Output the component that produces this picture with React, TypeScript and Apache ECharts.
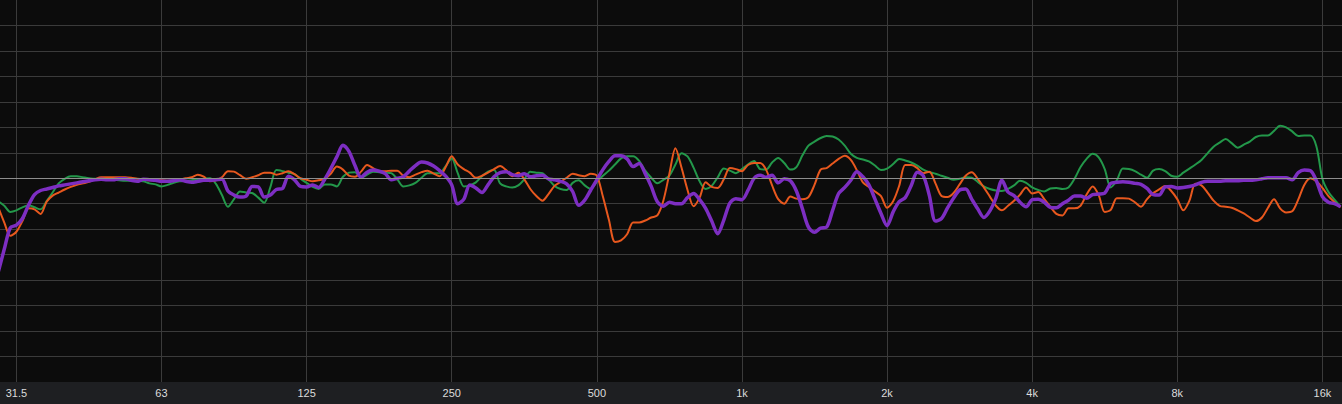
import React, { useEffect, useRef } from 'react';
import * as echarts from 'echarts';

// 1/24-octave frequency grid (Hz)
const freqHz = [
  28.66, 29.5, 30.36,
  31.25, 32.17, 33.11, 34.08, 35.08, 36.11, 37.16, 38.25, 39.37, 40.53, 41.71, 42.93, 44.19, 45.49, 46.82, 48.19, 49.61, 51.06, 52.56, 54.09, 55.68, 57.31, 58.99, 60.72,
  62.5, 64.34, 66.22, 68.16, 70.16, 72.22, 74.32, 76.5, 78.74, 81.06, 83.42, 85.86, 88.38, 90.98, 93.64, 96.38, 99.22, 102.1, 105.1, 108.2, 111.4, 114.6, 118.0, 121.4,
  125, 128.7, 132.4, 136.3, 140.3, 144.4, 148.7, 153.0, 157.5, 162.1, 166.9, 171.7, 176.8, 182.0, 187.3, 192.8, 198.4, 204.2, 210.2, 216.4, 222.7, 229.3, 236.0, 242.9,
  250, 257.3, 264.9, 272.6, 280.6, 288.9, 297.3, 306.0, 315.0, 324.2, 333.7, 343.5, 353.6, 363.9, 374.6, 385.6, 396.9, 408.5, 420.5, 432.8, 445.5, 458.5, 471.9, 485.8,
  500, 514.7, 529.8, 545.3, 561.3, 577.7, 594.6, 612.1, 630.0, 648.4, 667.4, 687.0, 707.1, 727.8, 749.2, 771.1, 793.7, 817.0, 840.9, 865.5, 890.9, 917.0, 943.9, 971.6,
  1000, 1029, 1060, 1091, 1122, 1155, 1189, 1224, 1260, 1297, 1335, 1374, 1414, 1456, 1498, 1542, 1587, 1634, 1682, 1731, 1782, 1834, 1888, 1943,
  2000, 2059, 2119, 2181, 2245, 2311, 2378, 2448, 2520, 2594, 2670, 2748, 2828, 2911, 2997, 3084, 3175, 3268, 3364, 3462, 3564, 3668, 3775, 3886,
  4000, 4117, 4238, 4362, 4490, 4622, 4757, 4896, 5040, 5187, 5339, 5496, 5657, 5822, 5993, 6169, 6350, 6535, 6727, 6924, 7127, 7336, 7551, 7772,
  8000, 8234, 8476, 8724, 8980, 9243, 9514, 9793, 10079, 10374, 10678, 10991, 11314, 11645, 11986, 12338, 12699, 13071, 13454, 13848, 14254, 14672, 15102, 15545,
  16000, 16469, 16952, 17448,
];

const greenDb = [
  -4.5, -5.4, -6.6, -6.3, -5.7, -5.3, -5.7, -6.1, -4.5, -2.8,
  -1.0, -0.1, 0.4, 0.4, 0.2, 0.0, -0.1, -0.2, -0.2, -0.3,
  -0.4, -0.5, -0.5, -0.5, -0.6, -1.0, -1.2, -1.6, -1.3, -0.9,
  -0.6, -0.5, -0.4, -0.2, -0.1, 0.0, -1.1, -3.3, -5.6, -4.1,
  -2.6, -2.8, -2.9, -3.8, -4.8, -1.8, 1.6, 1.4, 1.1, 0.8,
  -0.1, -0.9, -1.7, -2.1, -1.2, -1.2, -1.6, 0.3, 1.1, 1.2,
  0.1, 0.7, 1.3, 1.2, 1.1, 1.0, -0.2, -1.6, -1.4, -0.9,
  0.1, 1.0, 1.0, 1.0, 2.4, 3.9, 1.0, -1.6, -1.4, -0.8,
  0.4, 1.3, 1.6, -1.0, -1.6, -1.8, -1.4, -0.2, 1.3, 1.1,
  1.0, -0.2, -1.5, -2.1, -2.3, -0.9, -0.4, -1.4, -2.1, -0.7,
  0.5, 1.5, 2.7, 3.9, 4.3, 4.3, 3.4, 1.5, 0.1, -1.0,
  -0.3, 0.5, 2.7, 4.9, 4.3, 2.1, -0.6, -2.1, -1.5, 0.2,
  1.9, 1.5, 1.0, 1.8, 2.7, 3.4, 1.8, 1.7, 3.1, 4.0,
  3.0, 1.7, 2.2, 4.5, 6.4, 7.2, 7.9, 8.3, 8.2, 7.6,
  6.4, 4.8, 4.0, 3.7, 3.3, 2.5, 1.6, 1.9, 2.8, 3.8,
  3.5, 3.1, 2.5, 1.7, 1.2, 0.9, 0.5, 0.1, -0.3, -0.1,
  0.2, 0.1, -0.7, -1.6, -2.1, -2.4, -2.5, -2.1, -1.4, -0.5,
  -0.9, -1.8, -2.3, -2.6, -2.0, -1.9, -2.1, -1.8, -0.1, 2.2,
  3.8, 4.8, 4.1, 1.8, -1.8, -0.4, 1.9, 1.8, 1.4, 0.7,
  0.1, 1.5, 1.8, 1.4, 0.5, 0.3, 1.1, 1.9, 2.7, 3.6,
  4.9, 6.2, 7.0, 7.7, 6.9, 6.0, 6.6, 7.2, 8.1, 8.4,
  8.4, 9.3, 10.3, 10.0, 9.2, 8.3, 8.4, 8.4, 6.3, -0.1,
  -2.7, -4.2, -5.6,
];

const orangeDb = [
  -5.7, -8.7, -11.3, -10.5, -8.4, -5.9, -6.1, -7.0, -4.6, -3.4,
  -2.8, -2.2, -1.7, -1.3, -1.0, -0.7, -0.2, 0.2, 0.2, 0.2,
  0.2, 0.2, 0.1, -0.1, -0.2, -0.4, -0.4, -0.4, -0.5, -0.5,
  -0.3, 0.0, 0.2, 0.7, 0.3, -0.6, -0.4, 0.2, 1.4, 1.3,
  0.6, -0.1, 0.2, 0.6, 1.1, 1.1, 0.7, 1.0, 1.4, 0.8,
  0.0, -0.3, -0.6, -0.4, -0.1, 0.9, 2.3, 1.7, 0.5, 0.3,
  1.3, 2.6, 2.0, 1.4, 1.4, 1.5, 1.5, 0.5, 0.2, 0.7,
  1.2, 1.5, 0.9, 0.4, 2.2, 4.3, 2.7, 1.8, 1.1, 0.1,
  0.5, 1.1, 1.8, 2.4, 1.6, 0.4, 1.1, -0.2, -2.1, -3.5,
  -4.4, -3.1, -1.5, -0.7, 0.1, 0.9, 0.6, 0.4, 0.9, 0.5,
  -3.6, -8.2, -12.5, -12.2, -11.0, -8.7, -8.7, -8.3, -7.7, -7.3,
  -4.4, 0.9, 5.9, 2.1, -2.3, -5.5, -3.8, -0.8, -1.7, -1.9,
  -0.2, 2.0, 1.8, 1.4, 2.6, 3.0, 3.0, 1.7, -1.4, -4.1,
  -5.0, -3.6, -4.0, -4.1, -3.7, -1.3, 1.7, 2.0, 2.9, 3.8,
  4.4, 3.6, 1.6, -0.8, -1.7, -2.6, -3.5, -5.8, -4.5, -1.5,
  2.6, 2.6, 2.0, 1.0, 1.3, -1.0, -3.5, -3.7, -2.9, -1.2,
  0.5, 1.2, -0.1, -1.8, -3.6, -5.4, -6.3, -5.4, -4.4, -3.2,
  -1.8, -3.0, -2.7, -4.1, -5.6, -7.0, -7.3, -5.9, -5.9, -5.4,
  -3.2, -1.6, -3.3, -6.6, -6.2, -3.9, -3.9, -4.0, -4.7, -5.6,
  -4.1, -2.9, -2.2, -1.5, -2.5, -4.1, -6.3, -4.4, -1.1, -1.4,
  -2.8, -4.4, -5.4, -5.6, -5.8, -6.3, -6.9, -7.7, -8.4, -7.7,
  -5.8, -4.1, -5.9, -6.7, -6.5, -4.2, -1.3, 0.0, -0.6, -1.9,
  -3.5, -4.7, -5.7,
];

const purpleDb = [
  -18.4, -13.9, -9.7, -9.2, -7.9, -5.3, -3.2, -2.4, -2.1, -1.8,
  -1.5, -1.3, -1.1, -0.9, -0.7, -0.5, -0.3, -0.2, -0.3, -0.3,
  -0.1, -0.1, -0.4, -0.6, -0.2, -0.3, -0.4, -0.6, -0.6, -0.5,
  -0.3, -0.6, -0.8, -0.6, -0.4, -0.4, -0.3, -0.2, -2.5, -3.3,
  -3.7, -3.5, -1.6, -1.7, -3.7, -3.3, -2.2, -2.0, 0.4, -0.3,
  -1.6, -1.7, -1.3, -1.8, -0.2, 1.9, 4.2, 6.5, 5.3, 2.5,
  0.2, 1.2, 1.6, 1.4, 0.9, -0.3, 0.0, 0.3, 1.4, 2.5,
  3.2, 3.0, 2.4, 1.5, 0.4, -1.3, -5.0, -4.1, -1.3, -1.9,
  -2.8, -1.3, 0.3, 1.1, 1.3, 0.7, 0.5, 0.9, 0.3, 0.5,
  0.6, -0.1, -0.3, -0.6, -1.1, -2.6, -5.3, -4.3, -2.3, -0.3,
  1.7, 3.3, 4.4, 4.4, 3.8, 2.3, 2.9, 0.9, -1.6, -4.6,
  -5.5, -4.7, -5.0, -5.0, -3.8, -3.0, -4.2, -5.9, -8.4, -10.9,
  -8.2, -4.9, -4.0, -4.2, -2.4, 0.0, 0.6, 0.2, 0.6, -0.9,
  -0.1, -0.5, -2.5, -6.0, -9.6, -10.6, -9.8, -9.6, -6.3, -3.0,
  -1.8, -0.4, 1.3, 0.3, -1.3, -4.1, -6.9, -9.3, -6.6, -4.6,
  -3.8, -1.4, 1.2, 0.5, -3.4, -8.4, -7.9, -5.8, -3.9, -2.3,
  -2.1, -4.1, -6.0, -7.7, -6.4, -3.9, -0.4, -2.7, -3.4, -4.7,
  -5.6, -4.2, -4.1, -4.7, -5.7, -5.8, -5.0, -4.3, -3.5, -3.5,
  -3.9, -3.2, -3.1, -2.9, -1.0, -0.8, -0.7, -0.8, -1.0, -1.2,
  -2.0, -3.2, -3.3, -1.7, -1.6, -1.9, -1.8, -1.6, -1.3, -0.8,
  -0.6, -0.6, -0.6, -0.5, -0.5, -0.5, -0.4, -0.4, -0.3, -0.1,
  0.1, 0.1, 0.1, 0.1, -0.3, 1.1, 1.6, 1.5, -0.5, -3.6,
  -4.7, -5.0, -5.6,
];

const tickHz = [31.25, 62.5, 125, 250, 500, 1000, 2000, 4000, 8000, 16000];
const tickLabels = ['31.5', '63', '125', '250', '500', '1k', '2k', '4k', '8k', '16k'];
const xMinHz = 28.9;
const xMaxHz = 17570;
const yMin = -40;
const yMax = 35;
const yStep = 5;

const oct = (f: number) => Math.log2(f / 1000);

export default function App() {
  const ref = useRef<HTMLDivElement>(null);

  useEffect(() => {
    if (!ref.current) return;
    const chart = echarts.init(ref.current, null, { renderer: 'svg' });
    const pairs = (arr: number[]) => freqHz.map((f, i) => [oct(f), arr[i]]);
    const tickOct = tickHz.map(oct);
    const gridColor = '#3b3b3b';

    chart.setOption({
      animation: false,
      backgroundColor: '#1e1f22',
      grid: {
        left: 0, right: 0, top: 0, bottom: 22,
        show: true, backgroundColor: '#0c0c0c', borderWidth: 0,
      },
      xAxis: {
        type: 'value',
        min: oct(xMinHz),
        max: oct(xMaxHz),
        splitNumber: 9,
        axisLine: { show: false },
        axisTick: { show: false },
        splitLine: { show: true, showMinLine: false, showMaxLine: false, lineStyle: { color: gridColor, width: 1 } },
        axisLabel: {
          show: true,
          showMinLabel: false,
          showMaxLabel: false,
          color: '#dcdcdc',
          fontSize: 11,
          fontFamily: 'Liberation Sans, Arial, Helvetica, sans-serif',
          margin: 5,
          formatter: (v: number) => {
            for (let i = 0; i < tickOct.length; i++) {
              if (Math.abs(tickOct[i] - v) < 1e-6) return tickLabels[i];
            }
            return '';
          },
        },
      },
      yAxis: {
        type: 'value',
        min: yMin,
        max: yMax,
        interval: yStep,
        axisLine: { show: false },
        axisTick: { show: false },
        axisLabel: { show: false },
        splitLine: { show: true, showMinLine: false, showMaxLine: false, lineStyle: { color: gridColor, width: 1 } },
      },
      series: [
        {
          type: 'line',
          data: pairs(greenDb),
          symbol: 'none',
          smooth: 0.3,
          lineStyle: { color: '#23984a', width: 2 },
          itemStyle: { color: '#23984a' },
          markLine: {
            silent: true,
            symbol: 'none',
            label: { show: false },
            lineStyle: { color: '#8e8e8e', width: 1, type: 'solid' },
            data: [{ yAxis: 0 }],
          },
          z: 2,
        },
        {
          type: 'line',
          data: pairs(orangeDb),
          symbol: 'none',
          smooth: 0.3,
          lineStyle: { color: '#e8581e', width: 2 },
          itemStyle: { color: '#e8581e' },
          z: 3,
        },
        {
          type: 'line',
          data: pairs(purpleDb),
          symbol: 'none',
          smooth: 0.3,
          lineStyle: { color: '#7d2ec2', width: 3.5 },
          itemStyle: { color: '#7d2ec2' },
          z: 4,
        },
      ],
    });

    return () => chart.dispose();
  }, []);

  return (
    <div
      ref={ref}
      style={{ position: 'fixed', left: 0, top: 0, width: 1342, height: 404 }}
    />
  );
}
